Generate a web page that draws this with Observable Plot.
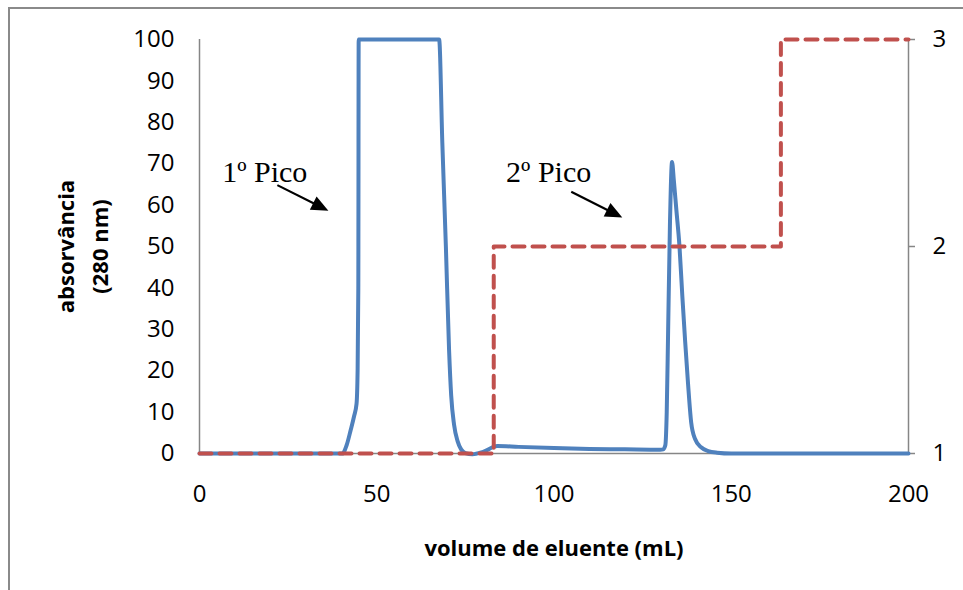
<!DOCTYPE html>
<html>
<head>
<meta charset="utf-8">
<script src="https://cdn.jsdelivr.net/npm/d3@7"></script>
<script src="https://cdn.jsdelivr.net/npm/@observablehq/plot@0.6"></script>
<style>
  html, body { margin: 0; padding: 0; background: #fff; overflow: hidden; }
  #wrap { position: relative; width: 963px; height: 590px; }
  #frame { position: absolute; left: 8px; top: 7px; width: 2000px; height: 2000px;
           border: 2.5px solid #8a8a8a; box-sizing: border-box; pointer-events: none; }
</style>
</head>
<body>
<div id="wrap"><div id="frame"></div></div>
<script>
// Blue trace: absorbance at 280 nm vs eluent volume (mL)
const volume = [0, 20, 40.3, 41.5, 42.6, 43.6, 44.3, 44.6, 44.8, 44.9, 50, 60, 67.6, 68.5, 69.5, 70.4, 71, 71.8, 72.8, 73.8, 75, 77, 80, 84, 90, 100, 110, 120, 130, 130.8, 131.4, 131.8, 132.2, 132.7, 133.3, 133.8, 134.5, 135.4, 136.2, 137, 137.8, 138.7, 139.8, 141.5, 143.5, 146, 150, 175, 200];
const absorbance = [0, 0, 0, 2, 5.5, 9, 12, 20, 40, 100, 100, 100, 100, 75, 50, 25, 14, 7, 3, 1, 0.1, -0.2, 0.4, 1.8, 1.6, 1.3, 1.1, 1.0, 0.9, 1.0, 2, 10, 30, 55, 70.4, 66, 59, 50, 38, 27, 17, 7.5, 3.5, 1.5, 0.6, 0.2, 0, 0, 0];

// Red dashed trace: elution step (right axis)
const stepVolume = [0, 83, 164, 200];
const stepLevel = [1, 2, 3, 3];

// Axis ticks
const xTicks = [0, 50, 100, 150, 200];
const yTicks = [0, 10, 20, 30, 40, 50, 60, 70, 80, 90, 100];
const rightTicks = [1, 2, 3];

// Annotations
const labels = [
  {text: "1º Pico", x: 18.4, y: 65.5},
  {text: "2º Pico", x: 98.5, y: 65.5}
];
const arrows = [
  {x1: 22.1, y1: 64.7, x2: 36.5, y2: 58.5},
  {x1: 105.0, y1: 63.1, x2: 119.4, y2: 56.9}
];

const trace = volume.map((v, i) => ({v, a: absorbance[i]}));
const steps = stepVolume.map((v, i) => ({v, level: stepLevel[i]}));
const toLeft = level => (level - 1) * 50; // right axis 1..3 → left 0..100

const axisGrey = "#868686";

const plot = Plot.plot({
  width: 963,
  height: 590,
  marginLeft: 199,
  marginRight: 55,
  marginTop: 39,
  marginBottom: 137,
  style: {fontFamily: "'Open Sans', sans-serif", fontSize: "24px", background: "transparent", overflow: "visible"},
  x: {domain: [0, 200]},
  y: {domain: [0, 100]},
  marks: [
    Plot.axisX({ticks: xTicks, tickSize: 0, tickPadding: 31, fontSize: 24, label: null, fill: "#000"}),
    Plot.axisY({anchor: "left", ticks: yTicks, tickSize: 0, tickPadding: 25, fontSize: 24, label: null, fill: "#000"}),
    Plot.axisY({anchor: "right", ticks: rightTicks.map(toLeft), tickFormat: d => String(d / 50 + 1),
                tickSize: 6, tickPadding: 18, fontSize: 24, label: null, stroke: axisGrey, fill: "#000", strokeWidth: 1.5}),
    Plot.ruleX([0, 200], {y1: 0, y2: 100, stroke: axisGrey, strokeWidth: 1.5}),
    Plot.ruleY([0], {x1: 0, x2: 200, stroke: axisGrey, strokeWidth: 1.5}),
    Plot.line(trace, {x: "v", y: "a", stroke: "#4F81BD", strokeWidth: 4, curve: "monotone-x"}),
    Plot.line(steps, {x: "v", y: d => toLeft(d.level), curve: "step-after", stroke: "#C0504D",
                      strokeWidth: 4, strokeDasharray: "12,8"}),
    Plot.text(labels, {x: "x", y: "y", text: "text", fontFamily: "'Liberation Serif', serif",
                       fontSize: 30, textAnchor: "middle", lineAnchor: "bottom", fill: "#000"}),
    Plot.text(["volume de eluente (mL)"], {frameAnchor: "bottom", dy: 95, text: d => d, lineAnchor: "middle",
                       textAnchor: "middle", fontWeight: "bold", fontSize: 22, fill: "#000"}),
    Plot.text(["absorvância"], {frameAnchor: "left", dx: -133, text: d => d, rotate: -90, lineAnchor: "middle",
                       textAnchor: "middle", fontWeight: "bold", fontSize: 22, fill: "#000"}),
    Plot.text(["(280 nm)"], {frameAnchor: "left", dx: -99, text: d => d, rotate: -90, lineAnchor: "middle",
                       textAnchor: "middle", fontWeight: "bold", fontSize: 22, fill: "#000"})
  ]
});

// Arrows with filled heads, positioned through the plot's scales
const sx = plot.scale("x"), sy = plot.scale("y");
const g = d3.select(plot).append("g");
for (const a of arrows) {
  const p0 = [sx.apply(a.x1), sy.apply(a.y1)];
  const p1 = [sx.apply(a.x2), sy.apply(a.y2)];
  const dx = p1[0] - p0[0], dy = p1[1] - p0[1];
  const len = Math.hypot(dx, dy);
  const u = [dx / len, dy / len], n = [-u[1], u[0]];
  const L = 17, W = 7.5;
  const base = [p1[0] - u[0] * L, p1[1] - u[1] * L];
  g.append("line")
    .attr("x1", p0[0]).attr("y1", p0[1])
    .attr("x2", base[0] + u[0] * 2).attr("y2", base[1] + u[1] * 2)
    .attr("stroke", "#000").attr("stroke-width", 2.2);
  g.append("polygon")
    .attr("points", [p1, [base[0] + n[0] * W, base[1] + n[1] * W], [base[0] - n[0] * W, base[1] - n[1] * W]]
      .map(p => p.join(",")).join(" "))
    .attr("fill", "#000");
}

document.getElementById("wrap").prepend(plot);
plot.style.position = "absolute";
plot.style.left = "0";
plot.style.top = "0";
</script>
</body>
</html>
